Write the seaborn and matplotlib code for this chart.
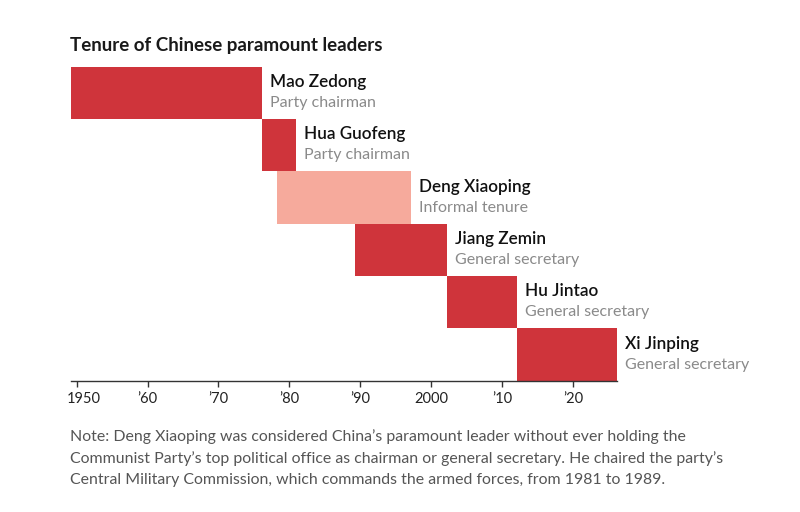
import matplotlib
matplotlib.use("Agg")
import matplotlib.pyplot as plt
import matplotlib.transforms as mtransforms
import seaborn as sns
import pandas as pd

# ---- data ----
leaders = ["Mao Zedong", "Hua Guofeng", "Deng Xiaoping", "Jiang Zemin", "Hu Jintao", "Xi Jinping"]
roles = ["Party chairman", "Party chairman", "Informal tenure",
         "General secretary", "General secretary", "General secretary"]
start_year = [1949.2, 1976.1, 1978.2, 1989.25, 2002.2, 2012.1]
end_year = [1976.1, 1981.0, 1997.2, 2002.2, 2012.1, 2026.2]
tenure_kind = ["formal", "formal", "informal", "formal", "formal", "formal"]
tick_years = [1950, 1960, 1970, 1980, 1990, 2000, 2010, 2020]
tick_labels = ["1950", "\u201960", "\u201970", "\u201980", "\u201990", "2000", "\u201910", "\u201920"]
title = "Tenure of Chinese paramount leaders"
note_lines = [
    "Note: Deng Xiaoping was considered China\u2019s paramount leader without ever holding the",
    "Communist Party\u2019s top political office as chairman or general secretary. He chaired the party\u2019s",
    "Central Military Commission, which commands the armed forces, from 1981 to 1989.",
]

RED = "#CF343B"
PINK = "#F6AA9C"

sns.set_theme(style="white")
plt.rcParams["font.family"] = ["Lato", "DejaVu Sans"]

df = pd.DataFrame({
    "leader": leaders,
    "role": roles,
    "start": start_year,
    "end": end_year,
    "kind": tenure_kind,
})
df["duration"] = df["end"] - df["start"]

fig = plt.figure(figsize=(8, 5.12), dpi=100)
ax = fig.add_axes([71 / 800, 1 - 380.7 / 512, 546 / 800, 314 / 512])

sns.barplot(data=df, y="leader", x="duration", hue="kind",
            palette={"formal": RED, "informal": PINK},
            order=leaders, orient="h", width=1.0, dodge=False,
            legend=False, ax=ax, linewidth=0, saturation=1)

# shift each bar to its start year
for p in ax.patches:
    idx = int(round(p.get_y() + p.get_height() / 2))
    if 0 <= idx < len(leaders):
        p.set_x(start_year[idx])
        p.set_width(end_year[idx] - start_year[idx])

ax.set_xlim(start_year[0], end_year[-1])
ax.set_ylim(len(leaders) - 0.5, -0.5)

for i, (name, role) in enumerate(zip(leaders, roles)):
    ax.annotate(name, xy=(end_year[i], i), xycoords="data",
                xytext=(8, 11), textcoords="offset pixels",
                ha="left", va="center", fontsize=12.3, fontweight="semibold",
                color="#111111")
    ax.annotate(role, xy=(end_year[i], i), xycoords="data",
                xytext=(8, -10), textcoords="offset pixels",
                ha="left", va="center", fontsize=11.5, color="#8a8a8a")

ax.set_xticks(tick_years)
ax.set_xticklabels(tick_labels, fontsize=10.5, color="#222222")
ax.set_yticks([])
ax.set_xlabel("")
ax.set_ylabel("")
for s in ["top", "right", "left"]:
    ax.spines[s].set_visible(False)
ax.spines["bottom"].set_color("#333333")
ax.spines["bottom"].set_linewidth(1.0)
ax.tick_params(axis="x", direction="out", length=4, width=1, color="#333333", pad=4,
               bottom=True)
# first label nudged right as in the reference
first = ax.get_xticklabels()[0]
first.set_transform(first.get_transform() +
                    mtransforms.ScaledTranslation(7 / 100, 0, fig.dpi_scale_trans))

fig.text(70 / 800, 1 - 45 / 512, title, fontsize=13.5, fontweight="bold",
         color="#1a1a1a", ha="left", va="center")

for k, line in enumerate(note_lines):
    fig.text(70 / 800, 1 - (437 + 21.5 * k) / 512, line, fontsize=11.4,
             color="#555555", ha="left", va="center")

fig.savefig("out.png", dpi=100, facecolor="white")
